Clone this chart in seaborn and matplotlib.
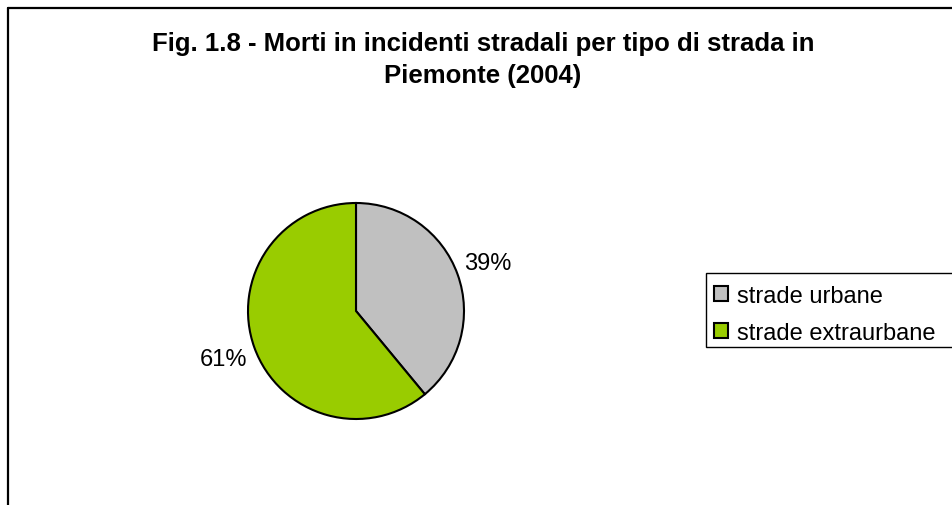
import matplotlib
matplotlib.use("Agg")
import matplotlib.pyplot as plt
from matplotlib.lines import Line2D
from matplotlib.patches import Patch, Rectangle
import seaborn as sns

# data
categories = ["strade urbane", "strade extraurbane"]
shares = [39, 61]
colors = ["#C0C0C0", "#99CC00"]
title = "Fig. 1.8 - Morti in incidenti stradali per tipo di strada in\nPiemonte (2004)"

sns.set_theme(style="white")
plt.rcParams["font.family"] = ["Liberation Sans", "DejaVu Sans"]
plt.rcParams["text.color"] = "black"

W, H = 952, 506
fig = plt.figure(figsize=(W / 100, H / 100), dpi=100)
fig.patch.set_facecolor("white")

# chart area border (only top and left visible in the crop)
fig.add_artist(Line2D([8 / W, 8 / W], [0, 1 - 9 / H], color="black", lw=1.6,
                      transform=fig.transFigure))
fig.add_artist(Line2D([8 / W, 1], [1 - 9 / H, 1 - 9 / H], color="black", lw=1.6,
                      transform=fig.transFigure))

# title
fig.text(483 / W, 1 - 60 / H, title, ha="center", va="center", color="black",
         fontsize=18.5, fontweight="bold", linespacing=1.42)

# pie: centre (356, 312) px, radius 108 px
cx, cy, r = 356, 312, 108
half = 160
ax = fig.add_axes([(cx - half) / W, (H - cy - half) / H, 2 * half / W, 2 * half / H])
ax.pie(shares, colors=colors, startangle=90, counterclock=False, radius=1,
       autopct="%.0f%%", pctdistance=1.3,
       wedgeprops=dict(edgecolor="black", linewidth=1.5),
       textprops=dict(fontsize=17, color="black"))
lim = half / r
ax.set_xlim(-lim, lim)
ax.set_ylim(-lim, lim)
ax.set_aspect("equal")
ax.axis("off")

# legend box (runs past the right edge of the crop)
fig.add_artist(Rectangle((706 / W, 1 - 348 / H), 300 / W, 74 / H,
                         transform=fig.transFigure, facecolor="white",
                         edgecolor="black", linewidth=1.0, zorder=1))
handles = [Patch(facecolor=c, edgecolor="black", linewidth=1.5) for c in colors]
leg = fig.legend(handles, categories, loc="upper left",
                 bbox_to_anchor=(702 / W, 1 - 274 / H), fontsize=17,
                 frameon=False, borderaxespad=0, borderpad=0.5,
                 handlelength=0.6, handleheight=0.6, handletextpad=0.4,
                 labelspacing=0.63)
leg.set_zorder(2)
for t in leg.get_texts():
    t.set_color("black")

fig.savefig("out.png", dpi=100, facecolor="white")
